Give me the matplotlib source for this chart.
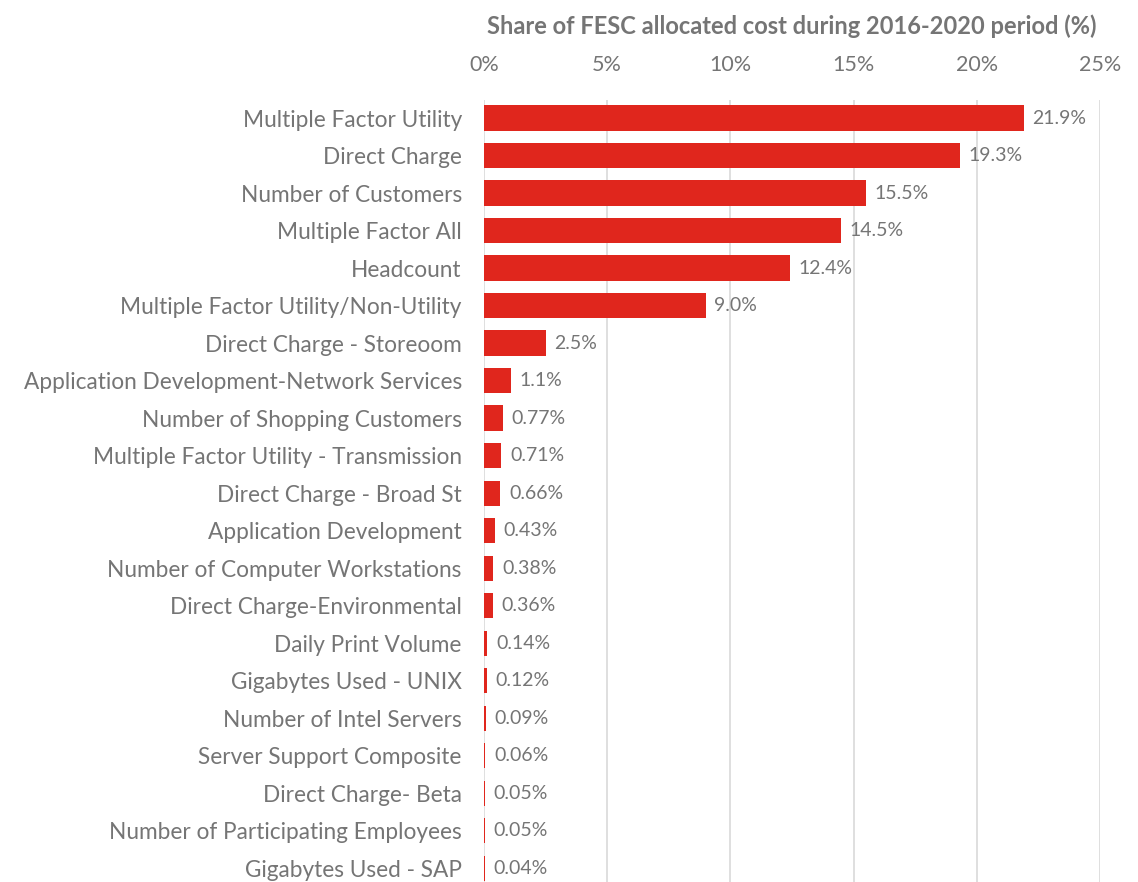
import matplotlib.pyplot as plt
from matplotlib.ticker import FuncFormatter

# 数据
categories = ['Multiple Factor Utility', 'Direct Charge', 'Number of Customers',
              'Multiple Factor All', 'Headcount', 'Multiple Factor Utility/Non-Utility',
              'Direct Charge - Storeoom', 'Application Development-Network Services',
              'Number of Shopping Customers', 'Multiple Factor Utility - Transmission',
              'Direct Charge - Broad St', 'Application Development',
              'Number of Computer Workstations', 'Direct Charge-Environmental',
              'Daily Print Volume', 'Gigabytes Used - UNIX', 'Number of Intel Servers',
              'Server Support Composite', 'Direct Charge- Beta',
              'Number of Participating Employees', 'Gigabytes Used - SAP']
shares = [21.9, 19.3, 15.5, 14.5, 12.4, 9.0, 2.5, 1.1, 0.77, 0.71, 0.66, 0.43,
          0.38, 0.36, 0.14, 0.12, 0.09, 0.06, 0.05, 0.05, 0.04]
value_labels = ['21.9%', '19.3%', '15.5%', '14.5%', '12.4%', '9.0%', '2.5%', '1.1%',
                '0.77%', '0.71%', '0.66%', '0.43%', '0.38%', '0.36%', '0.14%', '0.12%',
                '0.09%', '0.06%', '0.05%', '0.05%', '0.04%']

plt.rcParams['font.family'] = ['Lato', 'DejaVu Sans']
grey = '#757575'

fig = plt.figure(figsize=(11.38, 8.82), dpi=100)
ax = fig.add_axes([0.4253, 0.0, 0.9666 - 0.4253, 0.8866])

y = list(range(len(categories)))
ax.barh(y, shares, height=0.67, color='#e0261d', zorder=3)
for yi, v, lab in zip(y, shares, value_labels):
    ax.text(v + 0.35, yi, lab, va='center', ha='left', fontsize=14, color=grey)

ax.set_xlim(0, 25)
ax.set_ylim(20.37, -0.48)
ax.set_xticks([0, 5, 10, 15, 20, 25])
ax.xaxis.set_major_formatter(FuncFormatter(lambda x, p: f'{x:.0f}%'))
ax.xaxis.tick_top()
ax.xaxis.set_label_position('top')
ax.set_xlabel('Share of FESC allocated cost during 2016-2020 period (%)',
              fontsize=17, fontweight='bold', color=grey)
ax.xaxis.set_label_coords(0.5, 1.084)
ax.tick_params(axis='x', length=0, labelsize=15.5, colors=grey, pad=18)
ax.set_yticks(y)
ax.set_yticklabels(categories)
ax.tick_params(axis='y', length=0, labelsize=16.3, colors=grey, pad=16)
ax.grid(axis='x', color='#d9d9d9', linewidth=1.2, zorder=0)
for s in ax.spines.values():
    s.set_visible(False)

fig.savefig('out.png', dpi=100)
